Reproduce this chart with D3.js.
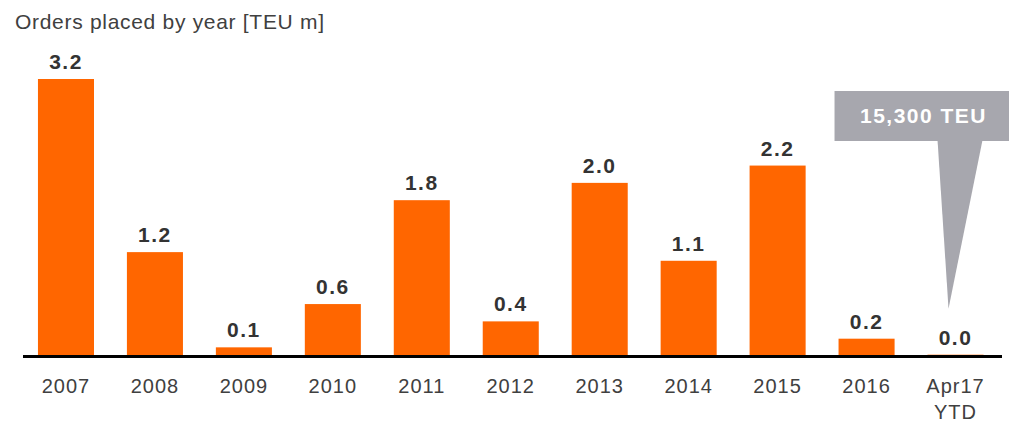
<!DOCTYPE html>
<html>
<head>
<meta charset="utf-8">
<script src="https://cdn.jsdelivr.net/npm/d3@7"></script>
<style>
  html, body { margin: 0; padding: 0; background: #fff; }
  svg { display: block; font-family: "Liberation Sans", Arial, sans-serif; }
</style>
</head>
<body>
<svg id="chart" width="1009" height="423"></svg>
<script>
// Container ship orders placed per year, million TEU
const categories = ["2007", "2008", "2009", "2010", "2011", "2012", "2013", "2014", "2015", "2016", "Apr17\nYTD"];
const orders = [3.2, 1.2, 0.1, 0.6, 1.8, 0.4, 2.0, 1.1, 2.2, 0.2, 0.0153];
const titleText = "Orders placed by year [TEU m]";
const calloutText = "15,300 TEU";
const calloutCategory = "Apr17\nYTD";

const svg = d3.select("#chart");
const baseline = 356;

const x = d3.scaleBand()
  .domain(categories)
  .range([21.5, 1000])
  .paddingInner(0.37)
  .paddingOuter(0.185);

const y = d3.scaleLinear()
  .domain([0, 3.2])
  .range([baseline, 79]);

const fmt = d3.format(".1f");

// Title
svg.append("text")
  .attr("x", 15)
  .attr("y", 29)
  .attr("font-size", 21)
  .attr("letter-spacing", 0.7)
  .attr("fill", "#404040")
  .text(titleText);

// Bars
svg.append("g").selectAll("rect")
  .data(orders)
  .join("rect")
  .attr("x", (d, i) => x(categories[i]))
  .attr("width", x.bandwidth())
  .attr("y", d => y(d))
  .attr("height", d => baseline - y(d))
  .attr("fill", "#ff6600");

// Value labels
svg.append("g").selectAll("text")
  .data(orders)
  .join("text")
  .attr("x", (d, i) => x(categories[i]) + x.bandwidth() / 2)
  .attr("y", d => y(d) - 10)
  .attr("text-anchor", "middle")
  .attr("font-size", 21)
  .attr("font-weight", "bold")
  .attr("letter-spacing", 1.5)
  .attr("fill", "#333")
  .text(d => fmt(d));

// Category axis (line + labels)
const axis = svg.append("g").attr("transform", `translate(0,${baseline})`)
  .call(d3.axisBottom(x).tickSize(0).tickFormat(() => ""));
axis.select(".domain").remove();
svg.append("line")
  .attr("x1", 23).attr("x2", 1002)
  .attr("y1", baseline + 0.5).attr("y2", baseline + 0.5)
  .attr("stroke", "#000").attr("stroke-width", 3);

axis.selectAll(".tick").each(function(d) {
  const t = d3.select(this).append("text")
    .attr("text-anchor", "middle")
    .attr("font-size", 20)
    .attr("letter-spacing", 1)
    .attr("fill", "#404040");
  d.split("\n").forEach((line, k) => {
    t.append("tspan").attr("x", 0).attr("y", 37 + k * 26).text(line);
  });
});

// Callout for the year-to-date figure
const cx = x(calloutCategory) + x.bandwidth() / 2;
const tipY = y(orders[orders.length - 1]) - 46;
const g = svg.append("g");
g.append("rect")
  .attr("x", cx - 121).attr("y", 91)
  .attr("width", 175).attr("height", 50)
  .attr("fill", "#a7a7ae");
g.append("path")
  .attr("d", `M${cx - 18},140 L${cx + 27},140 L${cx - 7},${tipY} Z`)
  .attr("fill", "#a7a7ae");
g.append("text")
  .attr("x", cx - 32).attr("y", 123)
  .attr("text-anchor", "middle")
  .attr("font-size", 21)
  .attr("font-weight", "bold")
  .attr("letter-spacing", 1.5)
  .attr("fill", "#fff")
  .text(calloutText);
</script>
</body>
</html>
